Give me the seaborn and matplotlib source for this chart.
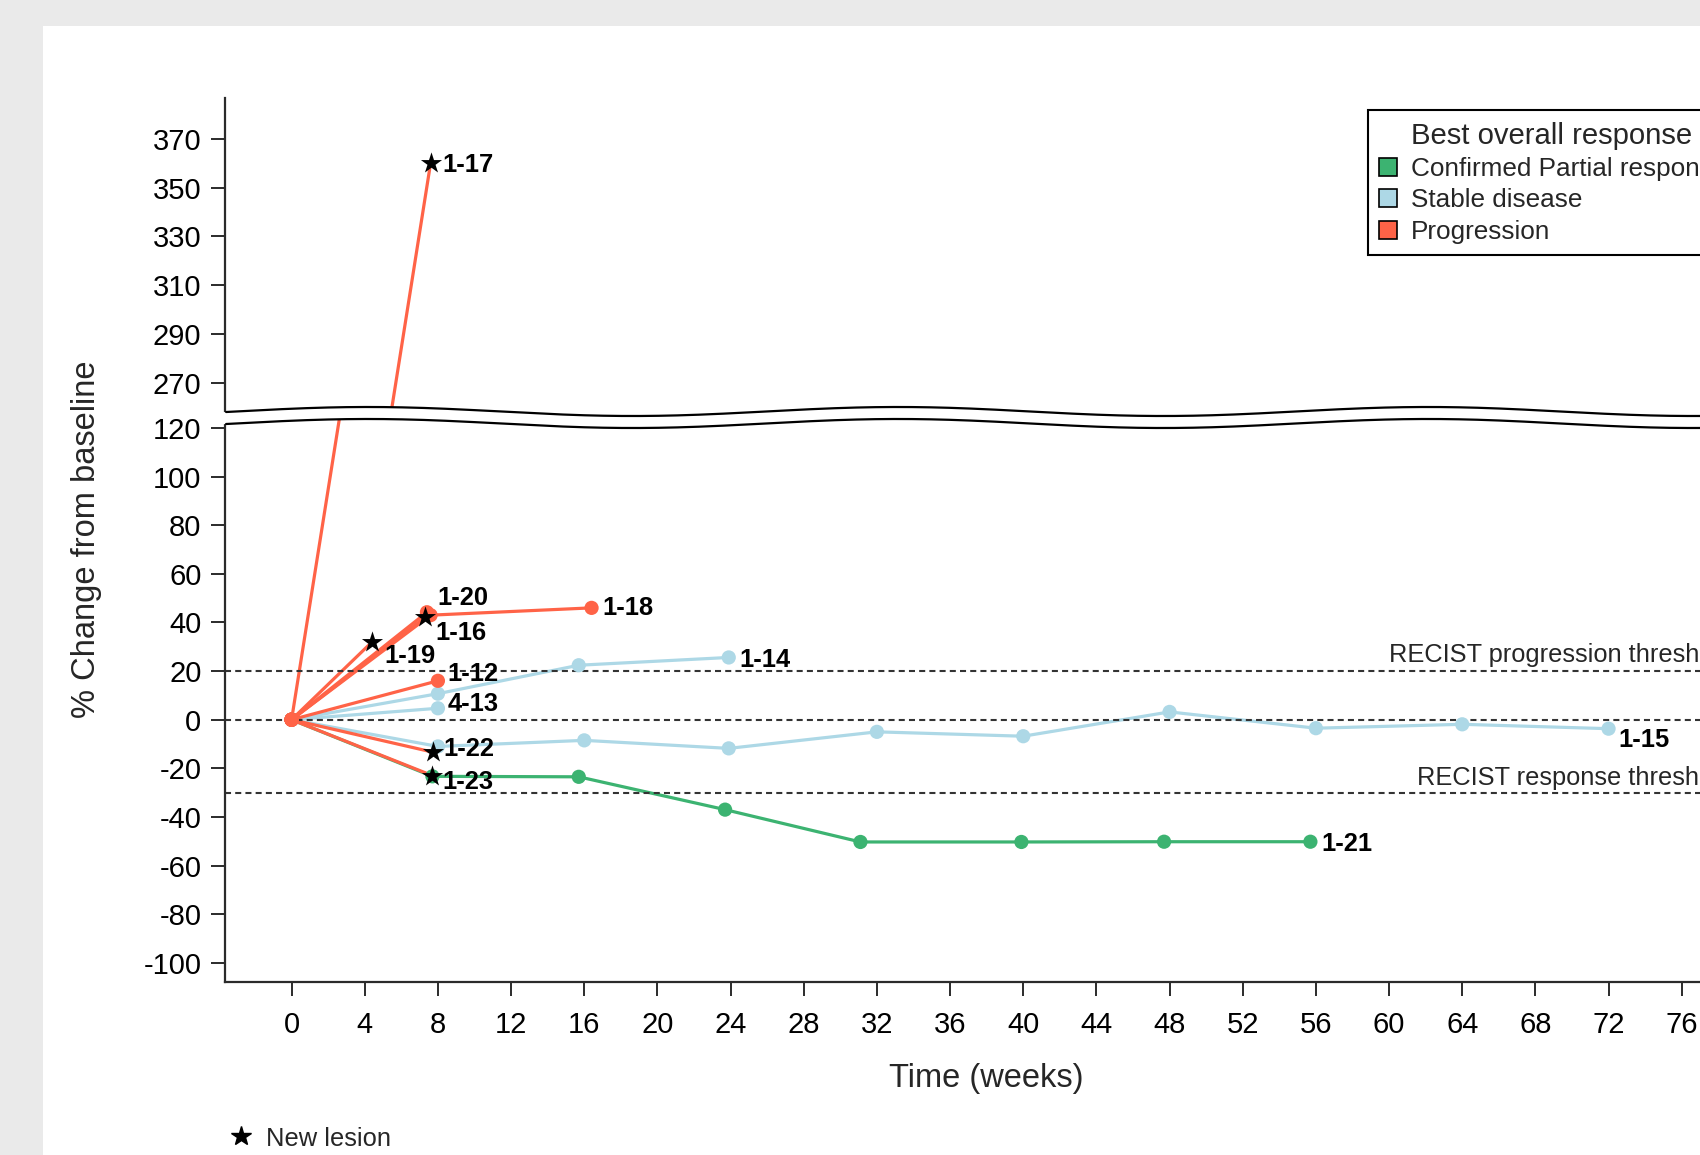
import numpy as np
import pandas as pd
import matplotlib
matplotlib.use("Agg")
import matplotlib.pyplot as plt
from matplotlib.lines import Line2D
from matplotlib.patches import Patch, Polygon, Rectangle
import seaborn as sns

# ---------------- data ----------------
patient_ids = ["1-21", "1-14", "1-15", "4-13", "1-12", "1-16",
               "1-17", "1-18", "1-19", "1-20", "1-22", "1-23"]
best_response = ["Confirmed Partial response", "Stable disease", "Stable disease",
                 "Stable disease", "Progression", "Progression", "Progression",
                 "Progression", "Progression", "Progression", "Progression",
                 "Progression"]
visit_weeks = [
    [0, 7.7, 15.7, 23.7, 31.1, 39.9, 47.7, 55.7],          # 1-21
    [0, 8.0, 15.7, 23.9],                                  # 1-14
    [0, 8.0, 16.0, 23.9, 32.0, 40.0, 48.0, 56.0, 64.0, 72.0],  # 1-15
    [0, 8.0],                                              # 4-13
    [0, 8.0],                                              # 1-12
    [0, 7.3],                                              # 1-16
    [0, 7.6],                                              # 1-17
    [0, 7.6, 16.4],                                        # 1-18
    [0, 4.4],                                              # 1-19
    [0, 7.4],                                              # 1-20
    [0, 7.75],                                             # 1-22
    [0, 7.7],                                              # 1-23
]
pct_change = [
    [0, -23.3, -23.5, -37.0, -50.3, -50.3, -50.2, -50.2],
    [0, 10.7, 22.4, 25.6],
    [0, -11.0, -8.5, -11.8, -5.0, -6.8, 3.2, -3.5, -1.9, -3.7],
    [0, 4.7],
    [0, 16.0],
    [0, 42.1],
    [0, 360.0],
    [0, 43.0, 46.0],
    [0, 32.0],
    [0, 44.2],
    [0, -13.4],
    [0, -23.0],
]
new_lesion_ids = ["1-16", "1-17", "1-19", "1-22", "1-23"]

response_levels = ["Confirmed Partial response", "Stable disease", "Progression"]
response_colors = ["#3CB371", "#ADD8E6", "#FF6347"]

x_ticks = list(range(0, 77, 4))
y_ticks_low = list(range(-100, 121, 20))
y_ticks_high = list(range(270, 371, 20))
threshold_values = [20, 0, -30]
threshold_labels = {20: "RECIST progression threshold", -30: "RECIST response threshold"}

# ---------------- long-form table ----------------
rows = []
for pid, resp, wks, vals in zip(patient_ids, best_response, visit_weeks, pct_change):
    for i, (w, v) in enumerate(zip(wks, vals)):
        rows.append({"patient": pid, "response": resp, "week": w, "change": v,
                     "new_lesion": pid in new_lesion_ids and i == len(wks) - 1})
df = pd.DataFrame(rows)
df["order"] = df["response"].map({r: k for k, r in enumerate(response_levels)})
df = df.sort_values("order", kind="stable")
palette = dict(zip(response_levels, response_colors))

# ---------------- style ----------------
sns.set_theme(style="white")
plt.rcParams["font.family"] = ["Liberation Sans", "DejaVu Sans"]
plt.rcParams["axes.unicode_minus"] = False

W, H = 1700, 1155
fig = plt.figure(figsize=(W / 100, H / 100), dpi=100, facecolor="#EAEAEA")


def fx(px):
    return px / W


def fy(py):
    return 1 - py / H


# white panel
fig.add_artist(Rectangle((fx(43), 0), 1.2, fy(26), transform=fig.transFigure,
                         facecolor="white", edgecolor="none", zorder=-10))

left_px, right_px = 225, 1760
top_px, upper_bottom_px = 97.6, 416.5
lower_top_px, lower_bottom_px = 418.5, 981.5

ax_top = fig.add_axes([fx(left_px), fy(upper_bottom_px),
                       (right_px - left_px) / W, (upper_bottom_px - top_px) / H])
ax_bot = fig.add_axes([fx(left_px), fy(lower_bottom_px),
                       (right_px - left_px) / W, (lower_bottom_px - lower_top_px) / H])

xlim = (-3.64, 80.28)
ax_top.set_ylim(256.1, 386.9)
ax_bot.set_ylim(-107.7, 123.9)

spine_color = "#2b2b2b"
for ax in (ax_top, ax_bot):
    ax.set_xlim(*xlim)
    ax.set_facecolor("white")
    for s in ("top", "right"):
        ax.spines[s].set_visible(False)
    for s in ("left", "bottom"):
        ax.spines[s].set_color(spine_color)
        ax.spines[s].set_linewidth(1.6)
    ax.tick_params(axis="both", direction="out", length=10, width=1.4,
                   color=spine_color, labelsize=21, labelcolor="black", pad=7,
                   left=True, bottom=True)

ax_top.spines["bottom"].set_visible(False)
ax_top.set_xticks([])
ax_top.set_yticks(y_ticks_high)
ax_bot.set_xticks(x_ticks)
ax_bot.set_yticks(y_ticks_low)
ax_bot.tick_params(axis="x", pad=11.2)

# reference lines
for v in threshold_values:
    ax_bot.axhline(v, color="#333333", lw=1.5, linestyle=(0, (2.9, 2.0)), zorder=2.5)
ax_bot.text(60.0, 26.5, threshold_labels[20], fontsize=18.3, ha="left", va="center")
ax_bot.text(61.55, -24.1, threshold_labels[-30], fontsize=18.3, ha="left", va="center")

# series
dots = df[~df["new_lesion"]]
stars = df[df["new_lesion"]]
for ax in (ax_top, ax_bot):
    sns.lineplot(data=df, x="week", y="change", hue="response", units="patient",
                 estimator=None, sort=False, hue_order=response_levels,
                 palette=palette, lw=2.3, legend=False, ax=ax, zorder=2)
    sns.scatterplot(data=dots, x="week", y="change", hue="response",
                    hue_order=response_levels, palette=palette, s=105,
                    linewidth=0, legend=False, ax=ax, zorder=3)
    sns.scatterplot(data=stars, x="week", y="change", color="black", marker="*",
                    s=16 ** 2, linewidth=0, legend=False, ax=ax, zorder=4)
    ax.set_xlabel("")
    ax.set_ylabel("")

# end-of-line patient labels
label_offsets = {
    "1-21": (8, -1.6), "1-14": (8, -1.6), "1-15": (7.3, -7.9), "4-13": (7.1, 3.4),
    "1-12": (7.1, 5.1), "1-16": (7.7, -11.2), "1-17": (8.2, -1.6), "1-18": (7.7, -0.4),
    "1-19": (8.7, -10.0), "1-20": (7.7, 9.9), "1-22": (7.1, 2.0), "1-23": (7.5, -4.5),
}
for pid, wks, vals in zip(patient_ids, visit_weeks, pct_change):
    target = ax_top if vals[-1] > 200 else ax_bot
    target.annotate(pid, (wks[-1], vals[-1]), xytext=label_offsets[pid],
                    textcoords="offset points", ha="left", va="center",
                    fontsize=18.4, fontweight="bold", color="black", zorder=6)

# axis break band
xs = np.linspace(223, 1765, 500)
wave = 4.5 * np.cos(2 * np.pi * (xs - 368) / 530)
upper_edge = 411.5 - wave
lower_edge = 423.5 - wave
band = np.vstack([np.column_stack([fx(xs), fy(upper_edge)]),
                  np.column_stack([fx(xs[::-1]), fy(lower_edge[::-1])])])
fig.add_artist(Polygon(band, closed=True, transform=fig.transFigure,
                       facecolor="white", edgecolor="none", zorder=5))
line_x = xs >= 224
for edge in (upper_edge, lower_edge):
    fig.add_artist(Line2D(fx(xs[line_x]), fy(edge[line_x]), transform=fig.transFigure,
                          color="black", lw=1.6, zorder=6))

# axis titles
fig.text(fx(986.6), fy(1079), "Time (weeks)", fontsize=23.5, ha="center", va="center")
fig.text(fx(87), fy(539), "% Change from baseline", fontsize=23.5, rotation=90,
         ha="center", va="center")

# response legend
handles = [Patch(facecolor="none", edgecolor="none", label="Best overall response")]
handles += [Patch(facecolor=c, edgecolor="black", lw=1.2, label=r)
            for r, c in zip(response_levels, response_colors)]
leg = fig.legend(handles=handles, loc="upper left",
                 bbox_to_anchor=(fx(1367.7), fy(110)), bbox_transform=fig.transFigure,
                 borderaxespad=0, borderpad=0.45, fontsize=18.8, handlelength=0.68,
                 handleheight=0.68, handletextpad=0.52, labelspacing=0.28,
                 frameon=True, fancybox=False, framealpha=1, edgecolor="black")
leg.get_frame().set_linewidth(1.5)
leg.get_texts()[0].set_fontsize(21.1)

# new lesion key
fig.add_artist(Line2D([fx(240.7)], [fy(1136)], marker="*", markersize=15,
                      color="black", linestyle="none", transform=fig.transFigure))
fig.text(fx(265.5), fy(1146.5), "New lesion", fontsize=18.4, ha="left", va="baseline")

fig.savefig("out.png", dpi=100, facecolor=fig.get_facecolor())
